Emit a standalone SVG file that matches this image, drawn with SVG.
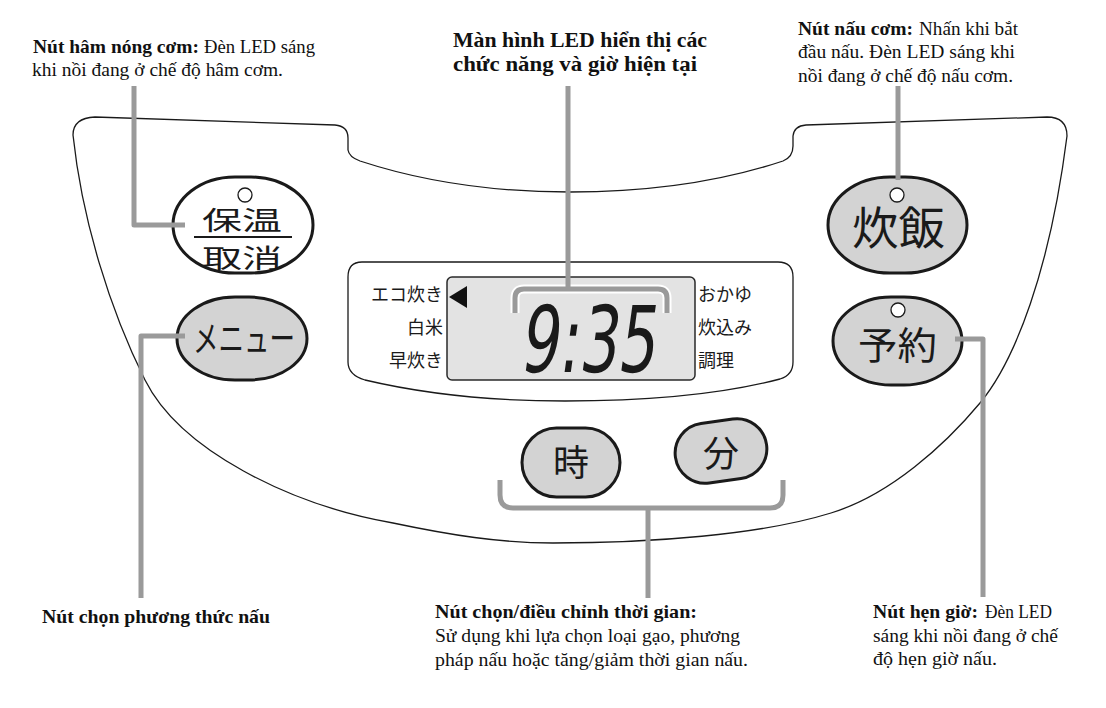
<svg xmlns="http://www.w3.org/2000/svg" width="1106" height="708" viewBox="0 0 1106 708">
<style>
.lbl{font-family:"Liberation Serif","Noto Serif",serif;font-size:19px;fill:#111}
.b{font-weight:bold}
.jp{font-family:"Noto Sans CJK JP","Noto Sans",sans-serif;fill:#1a1a1a}
.btn{fill:#d3d3d3;stroke:#1a1a1a;stroke-width:3}
.led{fill:#fff;stroke:#1a1a1a;stroke-width:1.3}
.conn{fill:none;stroke:#9a9a9a;stroke-width:5;stroke-linejoin:round}
.outline{fill:#fff;stroke:#1a1a1a;stroke-width:1.3}
</style>
<rect width="1106" height="708" fill="#fff"/>
<g id="panel">
<path class="outline" d="M95,117 L335,125 Q348,126 348,138 L348,150 Q349,157 360,161 C430,184 500,192 570,192 C650,192 720,182 783,161 Q793,157 793,146 L793,136 Q794,126 806,125 L1047,117 Q1067,117 1067,136 C1050,270 1015,361 980,403 C945,445 890,495 831,513 C760,535 650,543 553,543 C500,543 450,535 393,523 C290,505 180,450 145,380 C110,310 82,220 73,135 Q73,118 95,117 Z"/>
</g>
<g id="display">
<path class="outline" d="M362,262 L778,262 Q793,262 793,277 L793,362 Q793,375 780,379 C720,395 640,401 565,401 C490,401 420,393 365,380 Q348,375 348,362 L348,277 Q348,262 362,262 Z"/>
<rect x="447" y="277" width="248" height="103" rx="5" fill="#e3e3e3" stroke="#2a2a2a" stroke-width="1.5"/>
<polygon points="449,297 467,286 467,308" fill="#111"/>
<g class="jp" font-size="18">
<text x="443" y="301" text-anchor="end">エコ炊き</text>
<text x="443" y="334" text-anchor="end">白米</text>
<text x="443" y="367" text-anchor="end">早炊き</text>
<text x="698" y="301">おかゆ</text>
<text x="698" y="334">炊込み</text>
<text x="698" y="367">調理</text>
</g>
<g transform="translate(519,372) skewX(-8)">
<text x="0" y="0" font-family="DejaVu Sans, sans-serif" font-size="92" fill="#1a1a1a" textLength="136" lengthAdjust="spacingAndGlyphs">9:35</text>
</g>
</g>
<g id="btn-hoton">
<rect x="173" y="177" width="140" height="96" rx="62" ry="48" fill="#fff" stroke="#1a1a1a" stroke-width="3"/>
<circle class="led" cx="245" cy="195" r="7"/>
<line x1="194" y1="237" x2="292" y2="237" stroke="#1a1a1a" stroke-width="2"/>
<text class="jp" x="202" y="230" font-size="26" textLength="80" lengthAdjust="spacingAndGlyphs">保温</text>
<text class="jp" x="202" y="268" font-size="26" textLength="80" lengthAdjust="spacingAndGlyphs">取消</text>
</g>
<g id="btn-menu">
<rect class="btn" x="177" y="297" width="130" height="83" rx="58" ry="41.5"/>
<text class="jp" x="193" y="352" font-size="36" textLength="102" lengthAdjust="spacingAndGlyphs">メニュー</text>
</g>
<g id="btn-suihan">
<rect class="btn" x="828" y="177" width="139" height="96" rx="62" ry="48"/>
<circle class="led" cx="897" cy="195" r="7"/>
<text class="jp" x="852" y="245" font-size="45" textLength="93" lengthAdjust="spacingAndGlyphs">炊飯</text>
</g>
<g id="btn-yoyaku">
<rect class="btn" x="833" y="297" width="129" height="88" rx="58" ry="44"/>
<circle class="led" cx="898" cy="310" r="7"/>
<text class="jp" x="858" y="359" font-size="38" textLength="79" lengthAdjust="spacingAndGlyphs">予約</text>
</g>
<g id="btn-ji">
<rect class="btn" x="522" y="428" width="98" height="69" rx="34.5"/>
<text class="jp" x="571" y="476" font-size="36" text-anchor="middle">時</text>
</g>
<g id="btn-fun">
<rect class="btn" x="675" y="421" width="92" height="60" rx="30" transform="rotate(-8 721 451)"/>
<text class="jp" x="721" y="467" font-size="36" text-anchor="middle">分</text>
</g>
<g id="connectors">
<path d="M515,313 L515,298 Q515,289 524,289 L658,289 Q667,289 667,298 L667,313" fill="none" stroke="#fff" stroke-width="9" stroke-linejoin="round"/>
<path d="M515,313 L515,298 Q515,289 524,289 L658,289 Q667,289 667,298 L667,313" class="conn" stroke="#a8a8a8"/>
<path class="conn" d="M568,86 L568,289"/>
<path class="conn" d="M134,86 L134,225 L185,225"/>
<path class="conn" d="M185,336 L141,336 L141,598"/>
<path class="conn" d="M898,86 L898,180"/>
<path class="conn" d="M955,339 L983,339 L983,597"/>
<path class="conn" d="M500,480 L500,495 Q500,508 513,508 L770,508 Q783,508 783,495 L783,480"/>
<path class="conn" d="M648,508 L648,598"/>
</g>
<g id="label-hamnong" class="lbl">
<text y="53"><tspan class="b" x="33" textLength="166" lengthAdjust="spacingAndGlyphs">Nút hâm nóng cơm:</tspan><tspan x="204" textLength="111" lengthAdjust="spacingAndGlyphs">Đèn LED sáng</tspan></text>
<text x="32" y="76" textLength="251" lengthAdjust="spacingAndGlyphs">khi nồi đang ở chế độ hâm cơm.</text>
</g>
<g id="label-led" class="lbl b">
<text x="453" y="47" textLength="254" lengthAdjust="spacingAndGlyphs" style="font-size:21px">Màn hình LED hiển thị các</text>
<text x="453" y="71" textLength="244" lengthAdjust="spacingAndGlyphs" style="font-size:21px">chức năng và giờ hiện tại</text>
</g>
<g id="label-naucom" class="lbl">
<text y="35"><tspan class="b" x="798" textLength="115" lengthAdjust="spacingAndGlyphs">Nút nấu cơm:</tspan><tspan x="919" textLength="99" lengthAdjust="spacingAndGlyphs">Nhấn khi bắt</tspan></text>
<text x="798" y="58" textLength="217" lengthAdjust="spacingAndGlyphs">đầu nấu. Đèn LED sáng khi</text>
<text x="798" y="82" textLength="215" lengthAdjust="spacingAndGlyphs">nồi đang ở chế độ nấu cơm.</text>
</g>
<g id="label-menu" class="lbl b">
<text x="42" y="623" textLength="228" lengthAdjust="spacingAndGlyphs">Nút chọn phương thức nấu</text>
</g>
<g id="label-time" class="lbl">
<text class="b" x="435" y="618" textLength="262" lengthAdjust="spacingAndGlyphs">Nút chọn/điều chỉnh thời gian:</text>
<text x="435" y="642" textLength="305" lengthAdjust="spacingAndGlyphs">Sử dụng khi lựa chọn loại gạo, phương</text>
<text x="435" y="666" textLength="313" lengthAdjust="spacingAndGlyphs">pháp nấu hoặc tăng/giảm thời gian nấu.</text>
</g>
<g id="label-hengio" class="lbl">
<text y="618"><tspan class="b" x="873" textLength="105" lengthAdjust="spacingAndGlyphs">Nút hẹn giờ:</tspan><tspan x="985" textLength="67" lengthAdjust="spacingAndGlyphs">Đèn LED</tspan></text>
<text x="873" y="642" textLength="185" lengthAdjust="spacingAndGlyphs">sáng khi nồi đang ở chế</text>
<text x="873" y="665" textLength="124" lengthAdjust="spacingAndGlyphs">độ hẹn giờ nấu.</text>
</g>
</svg>
